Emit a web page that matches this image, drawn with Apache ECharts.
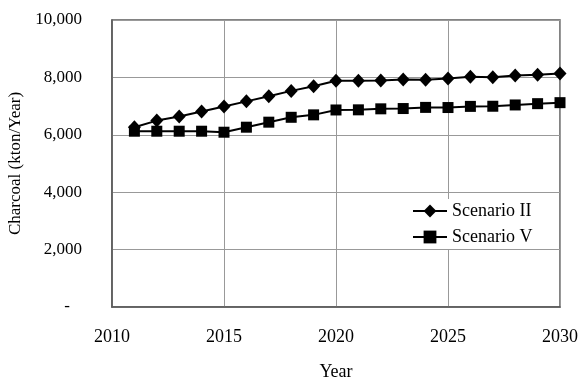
<!DOCTYPE html>
<html>
<head>
<meta charset="utf-8">
<script src="https://cdn.jsdelivr.net/npm/echarts@6/dist/echarts.min.js"></script>
<style>html,body{margin:0;padding:0;background:#fff;}#c{width:580px;height:381px;}</style>
</head>
<body>
<div id="c"></div>
<script>
var years = [2011,2012,2013,2014,2015,2016,2017,2018,2019,2020,2021,2022,2023,2024,2025,2026,2027,2028,2029,2030];
var scenarioII = [6265,6495,6635,6810,6985,7165,7340,7530,7690,7885,7885,7890,7930,7915,7965,8020,8005,8070,8095,8140];
var scenarioV = [6125,6125,6125,6125,6090,6265,6440,6610,6695,6865,6870,6905,6915,6955,6950,6990,6995,7040,7085,7120];
var seriesNames = ['Scenario II','Scenario V'];
var xTicks = {min:2010, max:2030, interval:5};
var yTicks = {min:0, max:10000, interval:2000};

function pairs(vals){ return years.map(function(y,i){ return [y, vals[i]]; }); }
var font = '"Liberation Serif", "Times New Roman", serif';
var chart = echarts.init(document.getElementById('c'));
chart.setOption({
  animation:false,
  backgroundColor:'#fff',
  grid:{left:112, right:20, top:20, bottom:74, outerBoundsMode:'none', containLabel:false,
        show:true, borderColor:'#595959', borderWidth:1.5, backgroundColor:'transparent'},
  legend:{
    orient:'vertical', left:408, top:199, itemWidth:34, itemHeight:16, itemGap:8,
    backgroundColor:'#fff', padding:[3,4,3,4],
    textStyle:{fontFamily:font, fontSize:18, color:'#000'},
    data:seriesNames
  },
  xAxis:{
    type:'value', min:xTicks.min, max:xTicks.max, interval:xTicks.interval,
    name:'Year', nameLocation:'middle', nameGap:56,
    nameTextStyle:{fontFamily:font, fontSize:18, color:'#000'},
    axisLine:{show:true, lineStyle:{color:'#595959', width:1.5}},
    axisTick:{show:false},
    axisLabel:{fontFamily:font, fontSize:18, color:'#000', margin:21, formatter:function(v){return String(v);}},
    splitLine:{show:true, lineStyle:{color:'#999', width:1}}
  },
  yAxis:{
    type:'value', min:yTicks.min, max:yTicks.max, interval:yTicks.interval,
    name:'Charcoal (kton/Year)', nameLocation:'middle', nameGap:88, nameRotate:90,
    nameTextStyle:{fontFamily:font, fontSize:17, color:'#000'},
    axisLine:{show:true, lineStyle:{color:'#595959', width:1.5}},
    axisTick:{show:false},
    axisLabel:{fontFamily:font, fontSize:17, color:'#000', margin:30,
      formatter:function(v){ return v===0 ? '{d|-}' : v.toLocaleString('en-US'); },
      rich:{d:{fontFamily:font, fontSize:17, color:'#000', padding:[0,12,0,0]}}},
    splitLine:{show:true, lineStyle:{color:'#999', width:1}}
  },
  series:[
    {name:seriesNames[0], type:'line', data:pairs(scenarioII), symbol:'diamond', symbolSize:[13,14],
     lineStyle:{color:'#000', width:2}, itemStyle:{color:'#000'}, z:3},
    {name:seriesNames[1], type:'line', data:pairs(scenarioV), symbol:'rect', symbolSize:11,
     lineStyle:{color:'#000', width:2}, itemStyle:{color:'#000'}, z:2}
  ]
});
</script>
</body>
</html>
